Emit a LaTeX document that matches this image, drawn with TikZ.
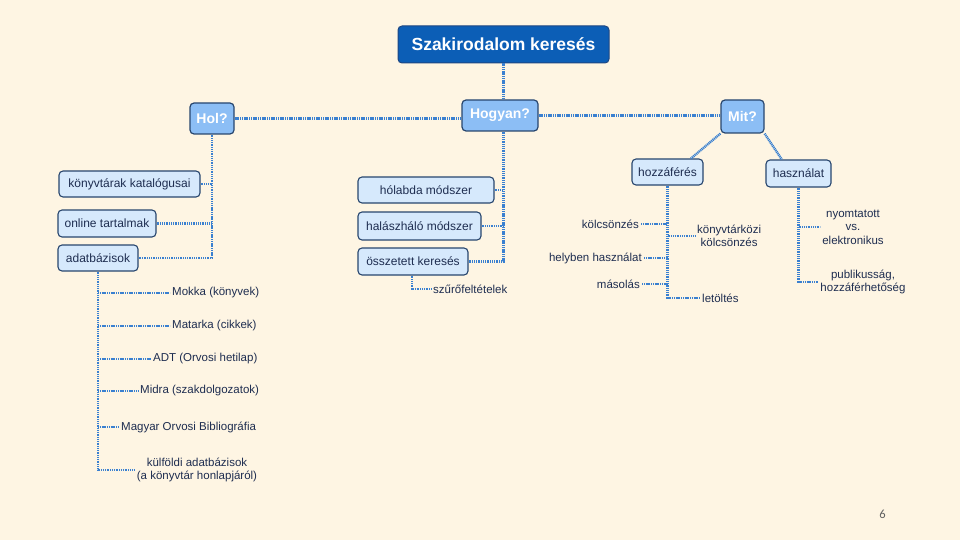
\documentclass[tikz,border=0pt]{standalone}
\usepackage{fontspec}
\setmainfont{Liberation Sans}
\newfontfamily\pagefont{Carlito}
\definecolor{bgcream}{RGB}{254,245,227}
\definecolor{titleblue}{RGB}{12,94,182}
\definecolor{titleborder}{RGB}{30,70,130}
\definecolor{midblue}{RGB}{140,190,245}
\definecolor{paleblue}{RGB}{214,233,252}
\definecolor{boxborder}{RGB}{40,70,110}
\definecolor{lineblue}{RGB}{58,128,208}
\definecolor{navytext}{RGB}{30,45,80}
\tikzset{
  titlebox/.style={draw=titleborder, fill=titleblue, line width=1pt, rounded corners=4pt,
    text=white, font=\fontsize{17.5}{20}\selectfont\bfseries, minimum width=211pt, minimum height=37pt, inner sep=0pt},
  midbox/.style={draw=boxborder, fill=midblue, line width=1.2pt, rounded corners=4pt,
    text=white, font=\fontsize{14}{16}\selectfont\bfseries, minimum height=31pt, inner sep=0pt},
  leafbox/.style={draw=boxborder, fill=paleblue, line width=1.1pt, rounded corners=4pt,
    text=navytext, font=\fontsize{12}{14}\selectfont, minimum height=26pt, inner sep=0pt},
  lbl/.style={text=navytext, font=\fontsize{11.5}{13.5}\selectfont, align=center, inner sep=2pt},
  conn/.style={draw=lineblue, line width=2.4pt, dash pattern=on 1.1pt off 0.7pt},
}
\begin{document}
\begin{tikzpicture}[x=1pt,y=-1pt]
\fill[bgcream] (0,0) rectangle (960,540);
\useasboundingbox (0,0) rectangle (960,540);

% main boxes
\node[titlebox] (title) at (503.5,44.5) {Szakirodalom keresés};
\node[midbox, minimum width=44pt] (hol) at (212,118.5) {Hol?};
\node[midbox, minimum width=76pt] (hogyan) at (500,115.5) {Hogyan?};
\node[midbox, minimum width=43pt, minimum height=33pt] (mit) at (742.5,116.5) {Mit?};

% Hol? leaves
\node[leafbox, minimum width=141pt] (kk) at (129.5,184) {könyvtárak katalógusai};
\node[leafbox, minimum width=98pt, minimum height=27pt] (ot) at (107,223.5) {online tartalmak};
\node[leafbox, minimum width=80pt] (ab) at (98,258) {adatbázisok};

\node[lbl, anchor=west] (mokka) at (170,293) {Mokka (könyvek)};
\node[lbl, anchor=west] (matarka) at (170,326) {Matarka (cikkek)};
\node[lbl, anchor=west] (adt) at (151,359) {ADT (Orvosi hetilap)};
\node[lbl, anchor=west] (midra) at (138,391) {Midra (szakdolgozatok)};
\node[lbl, anchor=west] (mob) at (119,427) {Magyar Orvosi Bibliográfia};
\node[lbl] (kf) at (197,470) {külföldi adatbázisok\\(a könyvtár honlapjáról)};

% Hogyan? leaves
\node[leafbox, minimum width=136pt] (hm) at (426,190) {hólabda módszer};
\node[leafbox, minimum width=123pt, minimum height=28pt] (hh) at (419.5,226) {halászháló módszer};
\node[leafbox, minimum width=110pt, minimum height=27pt] (ok) at (413,261.5) {összetett keresés};
\node[lbl, anchor=west] (szu) at (431,289) {szűrőfeltételek};

% Mit? leaves
\node[leafbox, minimum width=71pt] (hf) at (667.5,172) {hozzáférés};
\node[leafbox, minimum width=65pt, minimum height=27pt] (hs) at (798.5,173.5) {használat};

\node[lbl, anchor=east] (kol) at (641,224) {kölcsönzés};
\node[lbl, anchor=east] (hely) at (644,258) {helyben használat};
\node[lbl, anchor=east] (mas) at (642,284) {másolás};
\node[lbl, anchor=west] (kk2) at (695,236) {könyvtárközi\\kölcsönzés};
\node[lbl, anchor=west] (let) at (700,298) {letöltés};

\node[lbl] (nye) at (853,227) {nyomtatott\\vs.\\elektronikus};
\node[lbl] (pub) at (863,282) {publikusság,\\hozzáférhetőség};

\node[text=gray!75!black, font=\pagefont\fontsize{12.5}{14}\selectfont] (pnum) at (882.5,514) {6};

% connectors: top level
\draw[conn] (title.south) -- (title.south |- hogyan.north);
\draw[conn] (hol.east) -- (hol.east -| hogyan.west);
\draw[conn] (hogyan.east) -- (hogyan.east -| mit.west);

% Hol? branch
\draw[conn] (hol.south) -- (hol.south |- ab.east) -- (ab.east);
\draw[conn] (kk.east) -- (kk.east -| hol.south);
\draw[conn] (ot.east) -- (ot.east -| hol.south);

% adatbázisok branch
\draw[conn] (ab.south) -- (ab.south |- kf.west) -- (kf.west);
\draw[conn] (ab.south |- mokka.west) -- (mokka.west);
\draw[conn] (ab.south |- matarka.west) -- (matarka.west);
\draw[conn] (ab.south |- adt.west) -- (adt.west);
\draw[conn] (ab.south |- midra.west) -- (midra.west);
\draw[conn] (ab.south |- mob.west) -- (mob.west);

% Hogyan? branch
\draw[conn] (title.south |- hogyan.south) -- (title.south |- ok.east) -- (ok.east);
\draw[conn] (hm.east) -- (hm.east -| title.south);
\draw[conn] (hh.east) -- (hh.east -| title.south);
\draw[conn] (ok.south -| 412,0) -- (412,289) -- (szu.west);

% Mit? branch
\draw[conn] (mit.south west) -- (hf.30);
\draw[conn] (mit.south east) -- (hs.140);

\draw[conn] (hf.south) -- (hf.south |- let.west) -- (let.west);
\draw[conn] (kol.east) -- (kol.east -| hf.south);
\draw[conn] (hely.east) -- (hely.east -| hf.south);
\draw[conn] (mas.east) -- (mas.east -| hf.south);
\draw[conn] (hf.south |- kk2.west) -- (kk2.west);

\draw[conn] (hs.south) -- (hs.south |- pub.west) -- (pub.west);
\draw[conn] (hs.south |- nye.west) -- (nye.west);
\end{tikzpicture}
\end{document}
